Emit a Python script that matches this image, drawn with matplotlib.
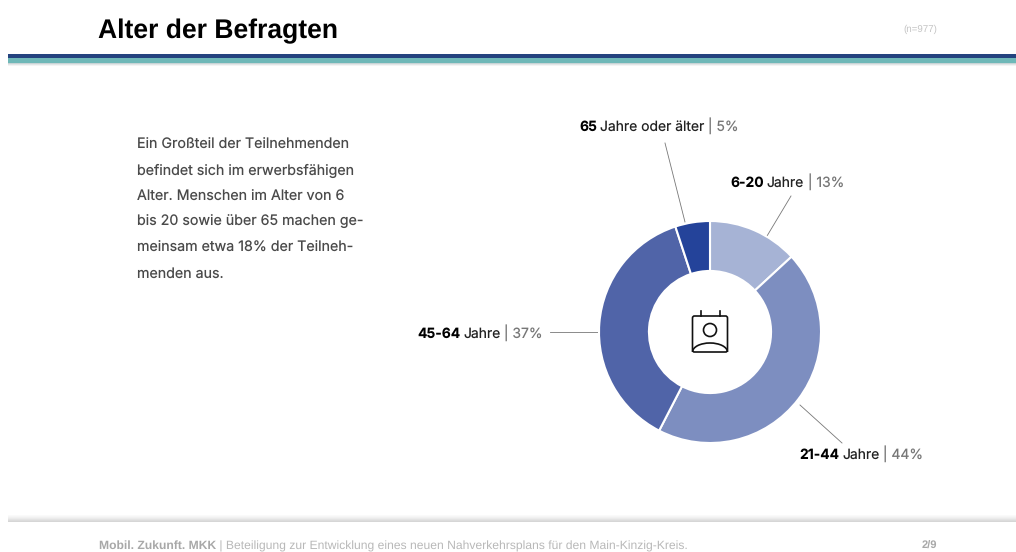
#!/usr/bin/env python3
import matplotlib
matplotlib.use('Agg')
import matplotlib.pyplot as plt
from matplotlib.patches import Rectangle, Circle, Arc, FancyBboxPatch

plt.rcParams['font.family'] = ['Liberation Sans', 'DejaVu Sans']
plt.rcParams['text.hinting'] = 'no_hinting'

W, H = 1016, 552

# age groups, clockwise from the top
groups = ['6-20', '21-44', '45-64', '65']
units = ['Jahre', 'Jahre', 'Jahre', 'Jahre oder älter']
shares = [13, 44, 37, 5]
colors = ['#a6b3d5', '#7d8ec0', '#5064a8', '#24439a']

title = 'Alter der Befragten'
n_note = '(n=977)'
body_lines = ['Ein Großteil der Teilnehmenden',
              'befindet sich im erwerbsfähigen',
              'Alter. Menschen im Alter von 6',
              'bis 20 sowie über 65 machen ge-',
              'meinsam etwa 18% der Teilneh-',
              'menden aus.']
footer_bold = 'Mobil. Zukunft. MKK'
footer_rest = ' | Beteiligung zur Entwicklung eines neuen Nahverkehrsplans für den Main-Kinzig-Kreis.'
page = '2/9'

fig = plt.figure(figsize=(W / 100, H / 100), dpi=100, facecolor='white')
bg = fig.add_axes([0, 0, 1, 1])
bg.set_xlim(0, W)
bg.set_ylim(H, 0)
bg.axis('off')

# header band
bg.add_patch(Rectangle((8, 53.5), W - 8, 4.5, color='#24437f', lw=0))
bg.add_patch(Rectangle((8, 58), W - 8, 4.5, color='#6fb8b8', lw=0))
for i, c in enumerate(['#c9d4d6', '#e2e6e7', '#f3f4f4']):
    bg.add_patch(Rectangle((8, 62.5 + i), W - 8, 1, color=c, lw=0))

# footer shadow
for i, c in enumerate(['#fafafa', '#f6f6f6', '#f1f1f1', '#ebebeb', '#e3e3e3', '#dcdcdc', '#d6d6d6']):
    bg.add_patch(Rectangle((8, 515 + i), W - 8, 1, color=c, lw=0))

bg.text(98, 38, title, fontsize=19.1, fontweight='bold', color='black', va='baseline')
bg.text(937, 29, n_note, fontsize=7, color='#c4c4c4', va='center', ha='right')

for i, line in enumerate(body_lines):
    bg.text(137, 149 + i * 25.7, line, fontsize=10.25, family=['Inter', 'DejaVu Sans'],
            color='#4a4a4a', va='baseline')

t = bg.text(99, 549, footer_bold, fontsize=8.7, fontweight='bold', color='#a8a8a8', va='baseline')
fig.canvas.draw()
box = t.get_window_extent()
bg.text(box.x1, 549, footer_rest, fontsize=8.7, color='#b8b8b8', va='baseline')
bg.text(937, 549, page, fontsize=8, fontweight='bold', color='#a8a8a8', va='baseline', ha='right')

# leader lines
for (x0, y0, x1, y1) in [(665, 143, 685, 222), (791, 196, 767, 236),
                         (550, 332, 598, 332), (800, 405, 842, 443)]:
    bg.plot([x0, x1], [y0, y1], color='#777777', lw=0.6)


def label(x, y, bold, unit, share):
    # x is the left edge of the label, y the baseline
    fam = ['Inter', 'DejaVu Sans']
    a = bg.text(x, y, bold, fontsize=10, family=fam, fontweight='bold', color='black', va='baseline')
    fig.canvas.draw()
    e = a.get_window_extent()
    b = bg.text(e.x1 + 3, y, unit, fontsize=10, family=fam, color='#222222', va='baseline')
    fig.canvas.draw()
    e = b.get_window_extent()
    bg.text(e.x1, y, ' | %d%%' % share, fontsize=10, family=fam, color='#777777', va='baseline')


label(730, 187, groups[0], units[0], shares[0])
label(799, 459, groups[1], units[1], shares[1])
label(417, 338, groups[2], units[2], shares[2])
label(579, 131, groups[3], units[3], shares[3])

# donut
cx, cy, r = 710, 332, 111
pie_ax = fig.add_axes([(cx - r) / W, 1 - (cy + r) / H, 2 * r / W, 2 * r / H])
pie_ax.pie(shares, colors=colors, startangle=90, counterclock=False, radius=1,
           wedgeprops=dict(width=0.45, edgecolor='white', linewidth=1.5))
pie_ax.set_xlim(-1, 1)
pie_ax.set_ylim(-1, 1)

# calendar / person icon
ic = '#111111'
bg.add_patch(FancyBboxPatch((692.5, 316), 35, 36, boxstyle='round,pad=0,rounding_size=2',
                            fill=False, ec=ic, lw=1.2, zorder=5))
bg.plot([701, 701], [311, 316], color=ic, lw=1.2, zorder=5)
bg.plot([720, 720], [311, 316], color=ic, lw=1.2, zorder=5)
bg.add_patch(Circle((710, 330), 6.5, fill=False, ec=ic, lw=1.2, zorder=5))
bg.add_patch(Arc((710, 352), 35, 18, theta1=180, theta2=360, ec=ic, lw=1.2, zorder=5))

fig.savefig('out.png', dpi=100)
